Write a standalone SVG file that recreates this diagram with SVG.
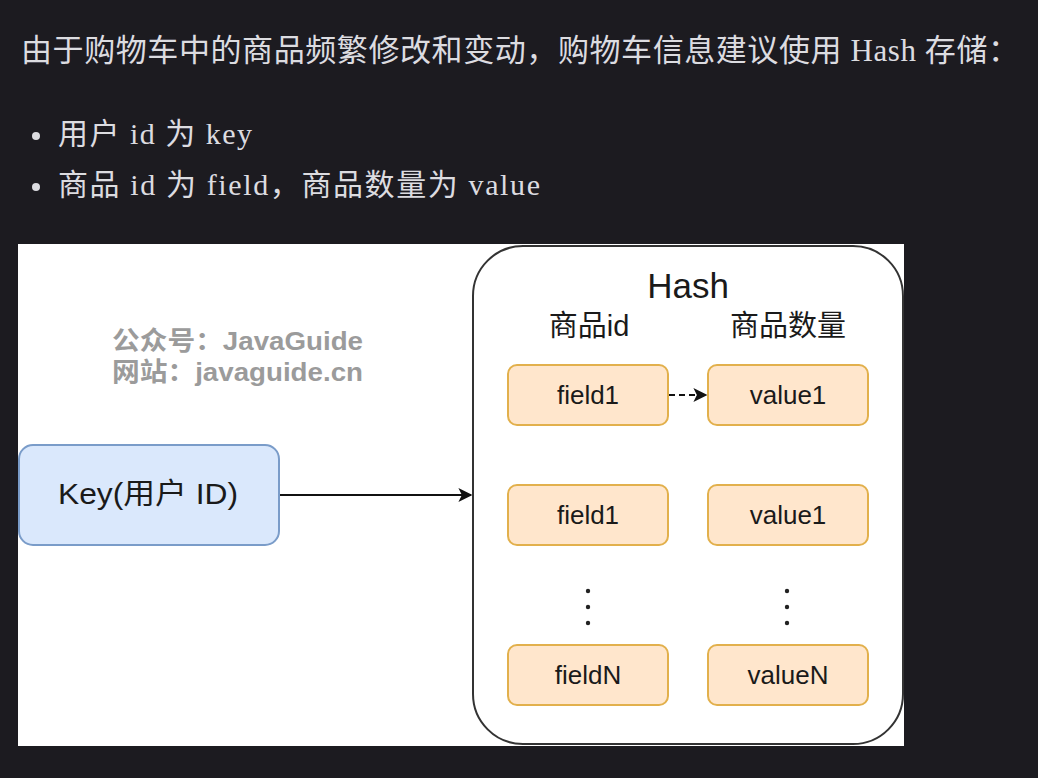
<svg xmlns="http://www.w3.org/2000/svg" width="1038" height="778" viewBox="0 0 1038 778">
<style>
.hdr{font-family:"Liberation Serif","Noto Sans CJK SC",serif;fill:#dcdce0}
.lbl{font-family:"Liberation Sans","Noto Sans CJK SC",sans-serif;fill:#1a1a1a;text-anchor:middle}
.item rect{fill:#ffe6cc;stroke:#e2b04c;stroke-width:2}
.item text{font-size:26px}
.wm{font-family:"Liberation Sans","Noto Sans CJK SC",sans-serif;font-weight:bold;fill:#9b9b9b;font-size:26px}
.dot{fill:#222}
</style>
<defs>
<marker id="ah" viewBox="0 0 10 10" refX="9" refY="5" markerWidth="14" markerHeight="14" markerUnits="userSpaceOnUse" orient="auto">
<path d="M0,0 L10,5 L0,10 L2.5,5 Z" fill="#111"/>
</marker>
<clipPath id="img"><rect x="18" y="244" width="886" height="502"/></clipPath>
</defs>
<rect width="1038" height="778" fill="#1c1b20"/>
<text class="hdr" x="21" y="61" font-size="31" textLength="998" lengthAdjust="spacing">由于购物车中的商品频繁修改和变动，购物车信息建议使用 Hash 存储：</text>
<circle cx="36" cy="136" r="4" fill="#dcdce0"/>
<text class="hdr" x="58" y="144" font-size="30" textLength="194" lengthAdjust="spacing">用户 id 为 key</text>
<circle cx="36" cy="187" r="4" fill="#dcdce0"/>
<text class="hdr" x="58" y="195" font-size="30" textLength="482" lengthAdjust="spacing">商品 id 为 field，商品数量为 value</text>
<g clip-path="url(#img)">
<rect x="18" y="244" width="886" height="502" fill="#ffffff"/>
<g id="hash">
<rect x="473" y="246" width="430" height="498" rx="50" ry="50" fill="#ffffff" stroke="#333" stroke-width="2"/>
<text class="lbl" x="688" y="298" font-size="35">Hash</text>
<text class="lbl" x="589" y="336" font-size="29">商品id</text>
<text class="lbl" x="788" y="336" font-size="29">商品数量</text>
</g>
<g id="watermark">
<text class="wm" x="112" y="350" textLength="251" lengthAdjust="spacingAndGlyphs">公众号：JavaGuide</text>
<text class="wm" x="112" y="381" textLength="251" lengthAdjust="spacingAndGlyphs">网站：javaguide.cn</text>
</g>
<g id="key">
<rect x="19" y="445" width="260" height="100" rx="14" fill="#dae8fc" stroke="#7a9cc9" stroke-width="2"/>
<text class="lbl" x="148" y="504" font-size="29" textLength="180" lengthAdjust="spacingAndGlyphs">Key(用户 ID)</text>
</g>
<g id="field1a" class="item"><rect x="508" y="365" width="160" height="60" rx="9"/><text class="lbl" x="588" y="404">field1</text></g>
<g id="value1a" class="item"><rect x="708" y="365" width="160" height="60" rx="9"/><text class="lbl" x="788" y="404">value1</text></g>
<g id="field1b" class="item"><rect x="508" y="485" width="160" height="60" rx="9"/><text class="lbl" x="588" y="524">field1</text></g>
<g id="value1b" class="item"><rect x="708" y="485" width="160" height="60" rx="9"/><text class="lbl" x="788" y="524">value1</text></g>
<g id="fieldN" class="item"><rect x="508" y="645" width="160" height="60" rx="9"/><text class="lbl" x="588" y="684">fieldN</text></g>
<g id="valueN" class="item"><rect x="708" y="645" width="160" height="60" rx="9"/><text class="lbl" x="788" y="684">valueN</text></g>
<g id="ellipsis">
<circle class="dot" cx="588" cy="591" r="2.2"/><circle class="dot" cx="588" cy="607" r="2.2"/><circle class="dot" cx="588" cy="623" r="2.2"/>
<circle class="dot" cx="787" cy="591" r="2.2"/><circle class="dot" cx="787" cy="607" r="2.2"/><circle class="dot" cx="787" cy="623" r="2.2"/>
</g>
<g id="connectors" fill="none" stroke="#111" stroke-width="2">
<line x1="280" y1="495" x2="471" y2="495" marker-end="url(#ah)"/>
<line x1="669" y1="395" x2="706" y2="395" stroke-dasharray="6 4" marker-end="url(#ah)"/>
</g>
</g>
</svg>
